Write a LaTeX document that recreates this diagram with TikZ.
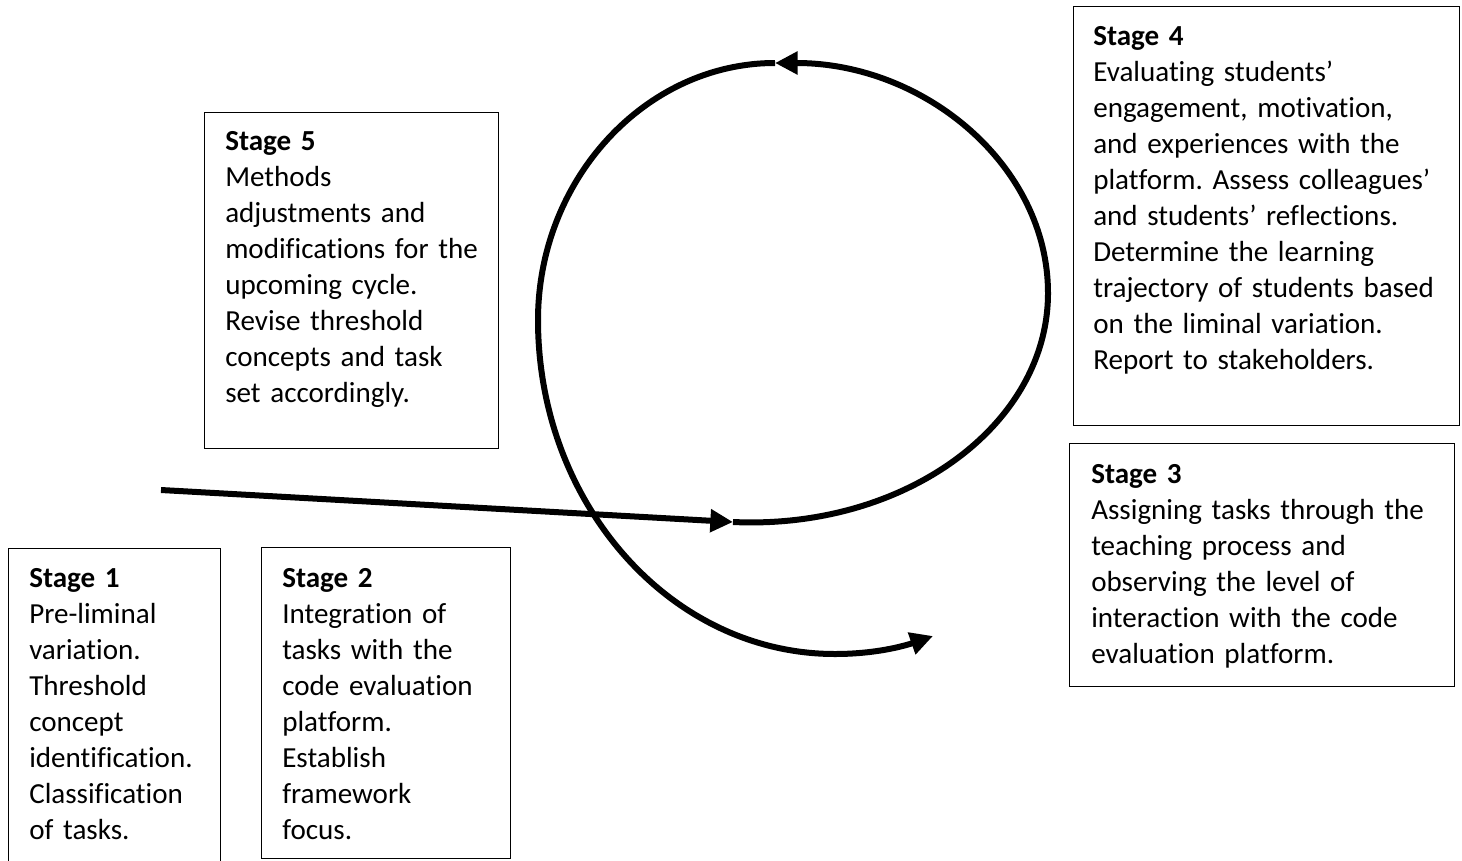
\documentclass[tikz,border=0pt]{standalone}
\usepackage{fontspec}
\setmainfont{Carlito}[Ligatures={NoCommon}]
\usetikzlibrary{arrows.meta}
\frenchspacing
\begin{document}
\begin{tikzpicture}[x=0.75pt,y=-0.75pt,
  stagebox/.style={draw,line width=1pt,anchor=north west,inner sep=0pt},
  stagetext/.style={anchor=base west,inner sep=0pt,align=left,text width=300pt,
    font=\fontsize{21.8}{27}\selectfont},
  flow/.style={line width=4.5pt,-{Triangle[length=17pt,width=16.5pt]}}]
\useasboundingbox (0,0) rectangle (1462,860);

% boxes
\node[stagebox,minimum width=159pt,minimum height=241.5pt] (b1) at (8,548) {};
\node[stagebox,minimum width=186.75pt,minimum height=233.25pt] (b2) at (261,547) {};
\node[stagebox,minimum width=288.75pt,minimum height=182.25pt] (b3) at (1069,443) {};
\node[stagebox,minimum width=289.5pt,minimum height=314.25pt] (b4) at (1073,6) {};
\node[stagebox,minimum width=220.5pt,minimum height=252pt] (b5) at (204,112) {};

% texts
\node[stagetext] (t1) at (29,587) {\textbf{Stage 1}\\Pre-liminal\\variation.\\Threshold\\concept\\identification.\\Classification\\of tasks.};
\node[stagetext] (t2) at (282,587) {\textbf{Stage 2}\\Integration of\\tasks with the\\code evaluation\\platform.\\Establish\\framework\\focus.};
\node[stagetext] (t3) at (1091,483) {\textbf{Stage 3}\\Assigning tasks through the\\teaching process and\\observing the level of\\interaction with the code\\evaluation platform.};
\node[stagetext] (t4) at (1093,45) {\textbf{Stage 4}\\Evaluating students’\\engagement, motivation,\\and experiences with the\\platform. Assess colleagues’\\and students’ reflections.\\Determine the learning\\trajectory of students based\\on the liminal variation.\\Report to stakeholders.};
\node[stagetext] (t5) at (225,150) {\textbf{Stage 5}\\Methods\\adjustments and\\modifications for the\\upcoming cycle.\\Revise threshold\\concepts and task\\set accordingly.};

% cycle path
\coordinate (start) at (161,490);
\coordinate (join) at (733,522);
\coordinate (right) at (1048,293);
\coordinate (top) at (775,63);
\coordinate (left) at (538,320);
\coordinate (low) at (835,654);
\coordinate (finish) at (933,636);

\draw[flow] (start) -- (join);
\draw[flow] (join) .. controls (905,530) and (1048,425) .. (right)
  .. controls (1048,166) and (925,63) .. (top);
\draw[flow] (top) .. controls (645,63) and (538,180) .. (left)
  .. controls (538,503) and (670,654) .. (low)
  .. controls (880,654) and (910,644) .. (finish);
\end{tikzpicture}
\end{document}
